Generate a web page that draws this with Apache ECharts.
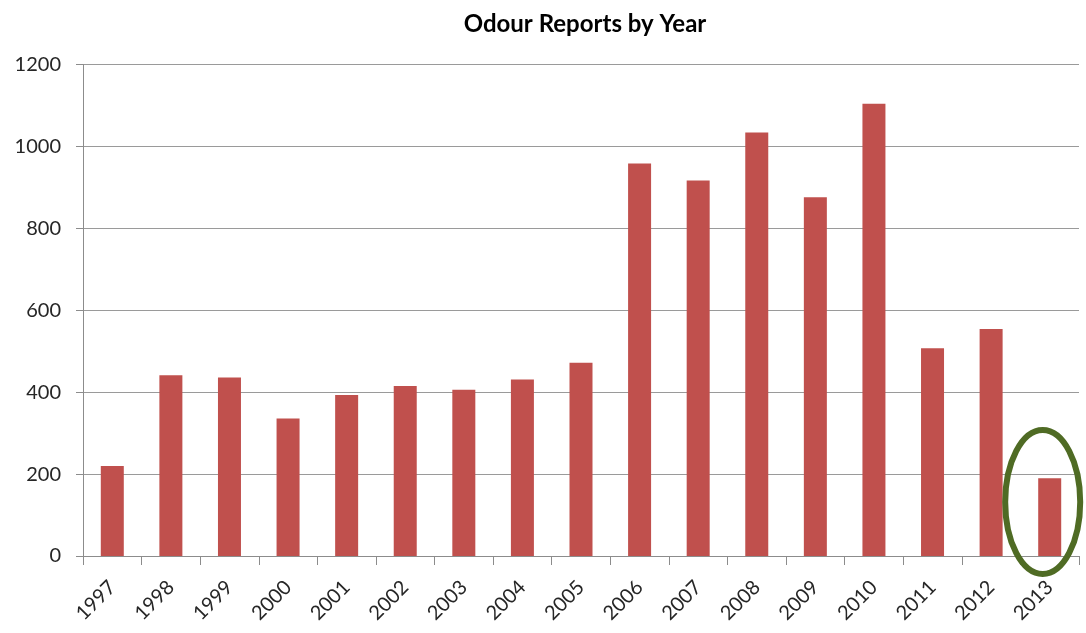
<!DOCTYPE html>
<html>
<head>
<meta charset="utf-8">
<script src="https://cdn.jsdelivr.net/npm/echarts@6/dist/echarts.min.js"></script>
<style>
html,body{margin:0;padding:0;background:#fff;}
#chart{width:1086px;height:633px;}
</style>
</head>
<body>
<div id="chart"></div>
<script>
const titleText = 'Odour Reports by Year';
const years = ['1997','1998','1999','2000','2001','2002','2003','2004','2005','2006','2007','2008','2009','2010','2011','2012','2013'];
const reports = [220, 441, 436, 336, 393, 415, 406, 431, 472, 958, 917, 1034, 876, 1104, 507, 554, 190];
const yTicks = [0, 200, 400, 600, 800, 1000, 1200];
const highlightYear = '2013';

const chart = echarts.init(document.getElementById('chart'), null, {renderer: 'canvas'});
const option = {
  backgroundColor: '#ffffff',
  animation: false,
  title: {
    text: titleText,
    left: 580, top: 7, textAlign: 'center',
    textStyle: {fontFamily: 'Lato', fontWeight: 'bold', fontSize: 24, color: '#000'}
  },
  grid: {left: 83, right: 7, top: 64.5, bottom: 77, containLabel: false},
  xAxis: {
    type: 'category',
    data: years,
    boundaryGap: true,
    axisLine: {lineStyle: {color: '#8c8c8c', width: 1}},
    axisTick: {show: true, length: 9, alignWithLabel: false, lineStyle: {color: '#8c8c8c'}},
    axisLabel: {rotate: 45, fontFamily: 'Lato', fontSize: 20, color: '#262626', margin: 28, interval: 0, verticalAlign: 'middle'}
  },
  yAxis: {
    type: 'value',
    min: yTicks[0], max: yTicks[yTicks.length - 1], interval: 200,
    axisLine: {show: true, lineStyle: {color: '#8c8c8c', width: 1}},
    axisTick: {show: true, length: 7, lineStyle: {color: '#8c8c8c'}},
    splitLine: {show: true, lineStyle: {color: '#9a9a9a', width: 1}},
    axisLabel: {fontFamily: 'Lato', fontSize: 20, color: '#262626', margin: 22, formatter: v => String(v)}
  },
  series: [{
    type: 'bar',
    data: reports,
    barWidth: 23,
    itemStyle: {color: '#c0504d'}
  }]
};
chart.setOption(option);

const p = chart.convertToPixel({xAxisIndex: 0, yAxisIndex: 0}, [highlightYear, 0]);
chart.setOption({
  graphic: [{
    type: 'ellipse',
    shape: {cx: p[0] - 7, cy: p[1] - 54, rx: 37.5, ry: 72},
    style: {fill: 'none', stroke: '#4f6b24', lineWidth: 6},
    z: 100
  }]
});
</script>
</body>
</html>
